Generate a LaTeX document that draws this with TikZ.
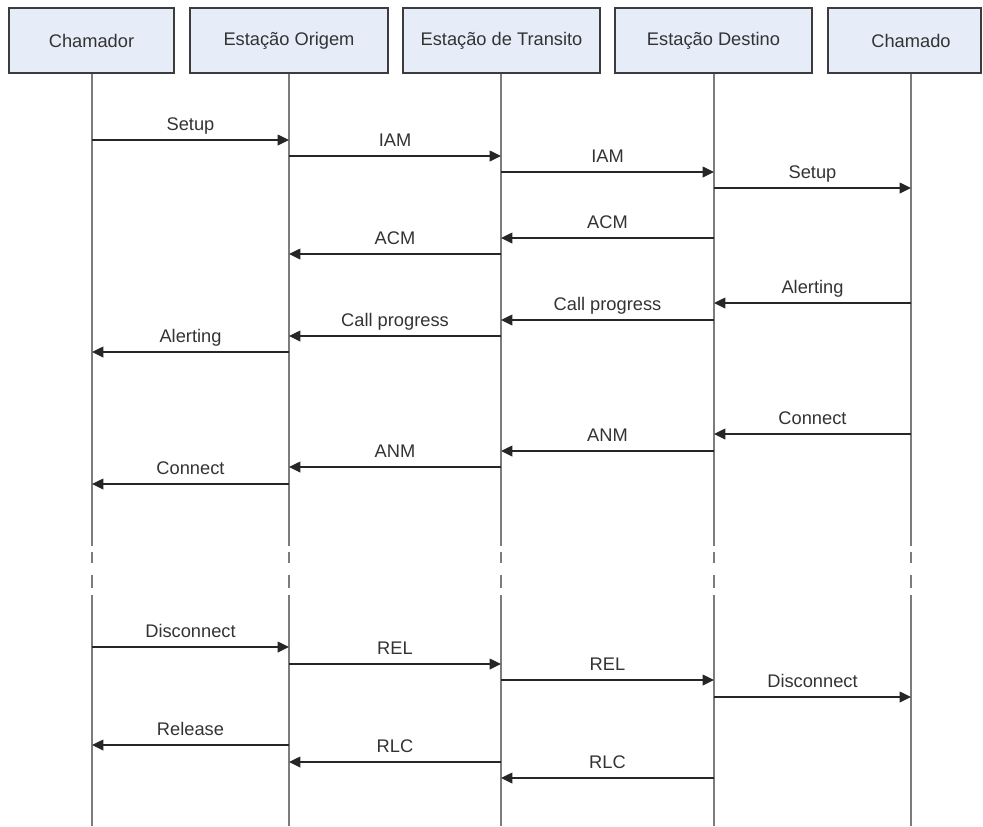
\documentclass[tikz,border=0pt]{standalone}
\usepackage{fontspec}
\setmainfont{Liberation Sans}
\usetikzlibrary{arrows.meta}

\definecolor{headfill}{HTML}{E6ECF8}
\definecolor{headline}{HTML}{3C3C3C}
\definecolor{lifegray}{HTML}{7C7C7C}
\definecolor{txtgray}{HTML}{333333}

\tikzset{
  head/.style={draw=headline, line width=1.1pt, fill=headfill, minimum height=48.75pt,
    inner sep=0pt, text=txtgray, font=\fontsize{13.7}{16}\selectfont},
  life/.style={draw=lifegray, line width=1.6pt},
  msg/.style={draw=black!85, line width=1.1pt, -{Triangle[length=8.5pt,width=8pt]}},
  lbl/.style={anchor=base, yshift=7.5pt, inner sep=0pt, text=txtgray,
    font=\fontsize{13.7}{16}\selectfont}
}

\begin{document}
\begin{tikzpicture}[x=0.75pt, y=-0.75pt]
    \useasboundingbox (0,0) rectangle (983,826);

    % Heads
    \node[head, minimum width=123.75pt] (hChr) at (91.5,40.5) {Chamador};
    \node[head, minimum width=148.5pt] (hOri) at (289,40.5) {Estação Origem};
    \node[head, minimum width=147.75pt] (hTra) at (501.5,40.5) {Estação de Transito};
    \node[head, minimum width=147.75pt] (hDes) at (713.5,40.5) {Estação Destino};
    \node[head, minimum width=114.75pt] (hChd) at (904.5,40.5) {\hspace*{9.75pt}Chamado};

    % Lifelines
    \coordinate (chr) at (92,73.5);
    \coordinate (ori) at (289,73.5);
    \coordinate (tra) at (501,73.5);
    \coordinate (des) at (714,73.5);
    \coordinate (chd) at (911,73.5);

    \foreach \n in {chr,ori,tra,des,chd} {
        \draw[life] (\n) -- (\n |- 0,546);
        \draw[life] (\n |- 0,552) -- (\n |- 0,563);
        \draw[life] (\n |- 0,575) -- (\n |- 0,588);
        \draw[life] (\n |- 0,595) -- (\n |- 0,826);
    }

    % Messages
    \foreach \a/\b/\yy/\txt [count=\i] in {
        chr/ori/140/Setup, ori/tra/156/IAM, tra/des/172/IAM, des/chd/188/Setup,
        des/tra/238/ACM, tra/ori/254/ACM,
        chd/des/303/Alerting, des/tra/320/Call progress, tra/ori/336/Call progress,
        ori/chr/352/Alerting,
        chd/des/434/Connect, des/tra/451/ANM, tra/ori/467/ANM, ori/chr/484/Connect,
        chr/ori/647/Disconnect, ori/tra/664/REL, tra/des/680/REL, des/chd/697/Disconnect,
        ori/chr/745/Release, tra/ori/762/RLC, des/tra/778/RLC} {
        \draw[msg] (\a |- 0,\yy) -- node[lbl] (m\i) {\txt} (\b |- 0,\yy);
    }
\end{tikzpicture}
\end{document}
